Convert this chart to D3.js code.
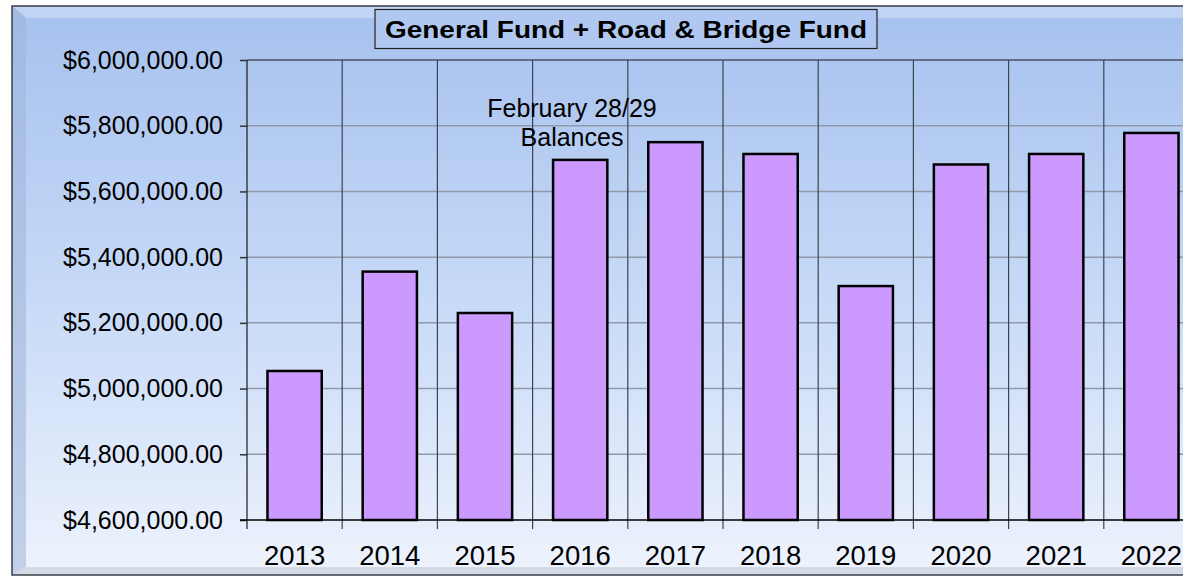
<!DOCTYPE html>
<html>
<head>
<meta charset="utf-8">
<script src="https://cdn.jsdelivr.net/npm/d3@7"></script>
<style>
  body { margin: 0; background: #fff; }
  svg { display: block; font-family: "Liberation Sans", Arial, sans-serif; }
</style>
</head>
<body>
<script>
// fund balances at end of February
let years = ["2013", "2014", "2015", "2016", "2017", "2018", "2019", "2020", "2021", "2022"];
let balances = [5053500, 5356000, 5230000, 5696000, 5750000, 5714000, 5312000, 5682000, 5714000, 5778000];
let yTicks = [4600000, 4800000, 5000000, 5200000, 5400000, 5600000, 5800000, 6000000];
let titleText = "General Fund + Road & Bridge Fund";
let noteLines = ["February 28/29", "Balances"];

let W = 1183, H = 577;
let margins = { left: 247, top: 60, right: -16, bottom: 57 };
let width = W - margins.left - margins.right, height = H - margins.top - margins.bottom;

let svg = d3.select("body").append("svg")
  .attr("width", W)
  .attr("height", H);

let defs = svg.append("defs");
let bg = defs.append("linearGradient").attr("id", "bg")
  .attr("x1", 0).attr("y1", 0).attr("x2", 0).attr("y2", 1);
bg.append("stop").attr("offset", "0%").attr("stop-color", "#a6c1ee");
bg.append("stop").attr("offset", "50%").attr("stop-color", "#c6d9f7");
bg.append("stop").attr("offset", "100%").attr("stop-color", "#eef3fd");

// the frame with a bevel, cut off on the right like the original
let fx0 = 12, fy0 = 6, fx1 = W + 20, fy1 = 575, bev = 14;
svg.append("rect")
  .attr("x", fx0).attr("y", fy0).attr("width", fx1 - fx0).attr("height", fy1 - fy0)
  .attr("fill", "url(#bg)");
// top bevel
svg.append("polygon")
  .attr("points", [[fx0, fy0], [fx1, fy0], [fx1, fy0 + 12], [fx0 + bev, fy0 + 12]].join(" "))
  .attr("fill", "#c4d7f6").attr("opacity", 0.85);
// left bevel
svg.append("polygon")
  .attr("points", [[fx0, fy0], [fx0 + bev, fy0 + 12], [fx0 + bev, fy1 - 8], [fx0, fy1]].join(" "))
  .attr("fill", "#9fb4d8").attr("opacity", 0.55);
// bottom bevel
svg.append("polygon")
  .attr("points", [[fx0, fy1], [fx0 + bev, fy1 - 8], [fx1, fy1 - 8], [fx1, fy1]].join(" "))
  .attr("fill", "#d4dbe6");
svg.append("rect")
  .attr("x", fx0).attr("y", fy0).attr("width", fx1 - fx0).attr("height", fy1 - fy0)
  .attr("fill", "none").attr("stroke", "#3a3f48").attr("stroke-width", 1.5);

// scales
let xScale = d3.scaleBand()
  .domain(years)
  .range([margins.left, margins.left + width])
  .paddingInner(0.43)
  .paddingOuter(0.215);
let step = xScale.step();
let yScale = d3.scaleLinear()
  .domain([4600000, 6000000])
  .range([margins.top + height, margins.top]);

// horizontal gridlines
svg.append("g").selectAll("line").data(yTicks.slice(1))
  .join("line")
  .attr("x1", margins.left).attr("x2", W)
  .attr("y1", d => yScale(d)).attr("y2", d => yScale(d))
  .attr("stroke", d => d === 6000000 ? "#4a5260" : "#8e9aac")
  .attr("stroke-width", 1.5);

// vertical gridlines, one per category boundary
let xEdges = d3.range(years.length + 1).map(i => margins.left + i * step);
svg.append("g").selectAll("line").data(xEdges)
  .join("line")
  .attr("x1", d => d).attr("x2", d => d)
  .attr("y1", margins.top).attr("y2", margins.top + height + 9)
  .attr("stroke", (d, i) => i === 0 ? "#1a1a1a" : "#3c4450")
  .attr("stroke-width", 1.2);

// y axis
let yAxis = d3.axisLeft(yScale)
  .tickValues(yTicks)
  .tickFormat(d3.format("$,.2f"))
  .tickSize(7)
  .tickPadding(17);
let yAxisG = svg.append("g")
  .attr("transform", `translate(${margins.left}, 0)`)
  .call(yAxis);
yAxisG.select(".domain").remove();
yAxisG.selectAll(".tick line").attr("stroke", "#333").attr("stroke-width", 1.5);
yAxisG.selectAll(".tick text")
  .attr("font-size", 25)
  .attr("fill", "#000")
  .attr("font-family", "Liberation Sans, Arial, sans-serif");

// bottom axis line
svg.append("line")
  .attr("x1", margins.left - 7).attr("x2", W)
  .attr("y1", yScale(4600000)).attr("y2", yScale(4600000))
  .attr("stroke", "#000").attr("stroke-width", 1.5);

// bars
svg.append("g").selectAll("rect").data(years)
  .join("rect")
  .attr("x", d => xScale(d))
  .attr("width", xScale.bandwidth())
  .attr("y", (d, i) => yScale(balances[i]))
  .attr("height", (d, i) => yScale(4600000) - yScale(balances[i]))
  .attr("fill", "#cc99ff")
  .attr("stroke", "#000")
  .attr("stroke-width", 2.5);

// x labels
svg.append("g").selectAll("text").data(years)
  .join("text")
  .attr("x", d => xScale(d) + xScale.bandwidth() / 2)
  .attr("y", 565)
  .attr("text-anchor", "middle")
  .attr("font-size", 27.5)
  .text(d => d);

// annotation
svg.append("g").selectAll("text").data(noteLines)
  .join("text")
  .attr("x", 572)
  .attr("y", (d, i) => 117 + i * 28.5)
  .attr("text-anchor", "middle")
  .attr("font-size", 25)
  .text(d => d);

// title box
svg.append("rect")
  .attr("x", 375).attr("y", 9.5).attr("width", 502).attr("height", 39)
  .attr("fill", "#b0c8f1")
  .attr("stroke", "#222").attr("stroke-width", 1.2);
svg.append("text")
  .attr("x", 626).attr("y", 38)
  .attr("text-anchor", "middle")
  .attr("font-size", 24)
  .attr("font-weight", "bold")
  .attr("textLength", 482)
  .attr("lengthAdjust", "spacingAndGlyphs")
  .text(titleText);
</script>
</body>
</html>
